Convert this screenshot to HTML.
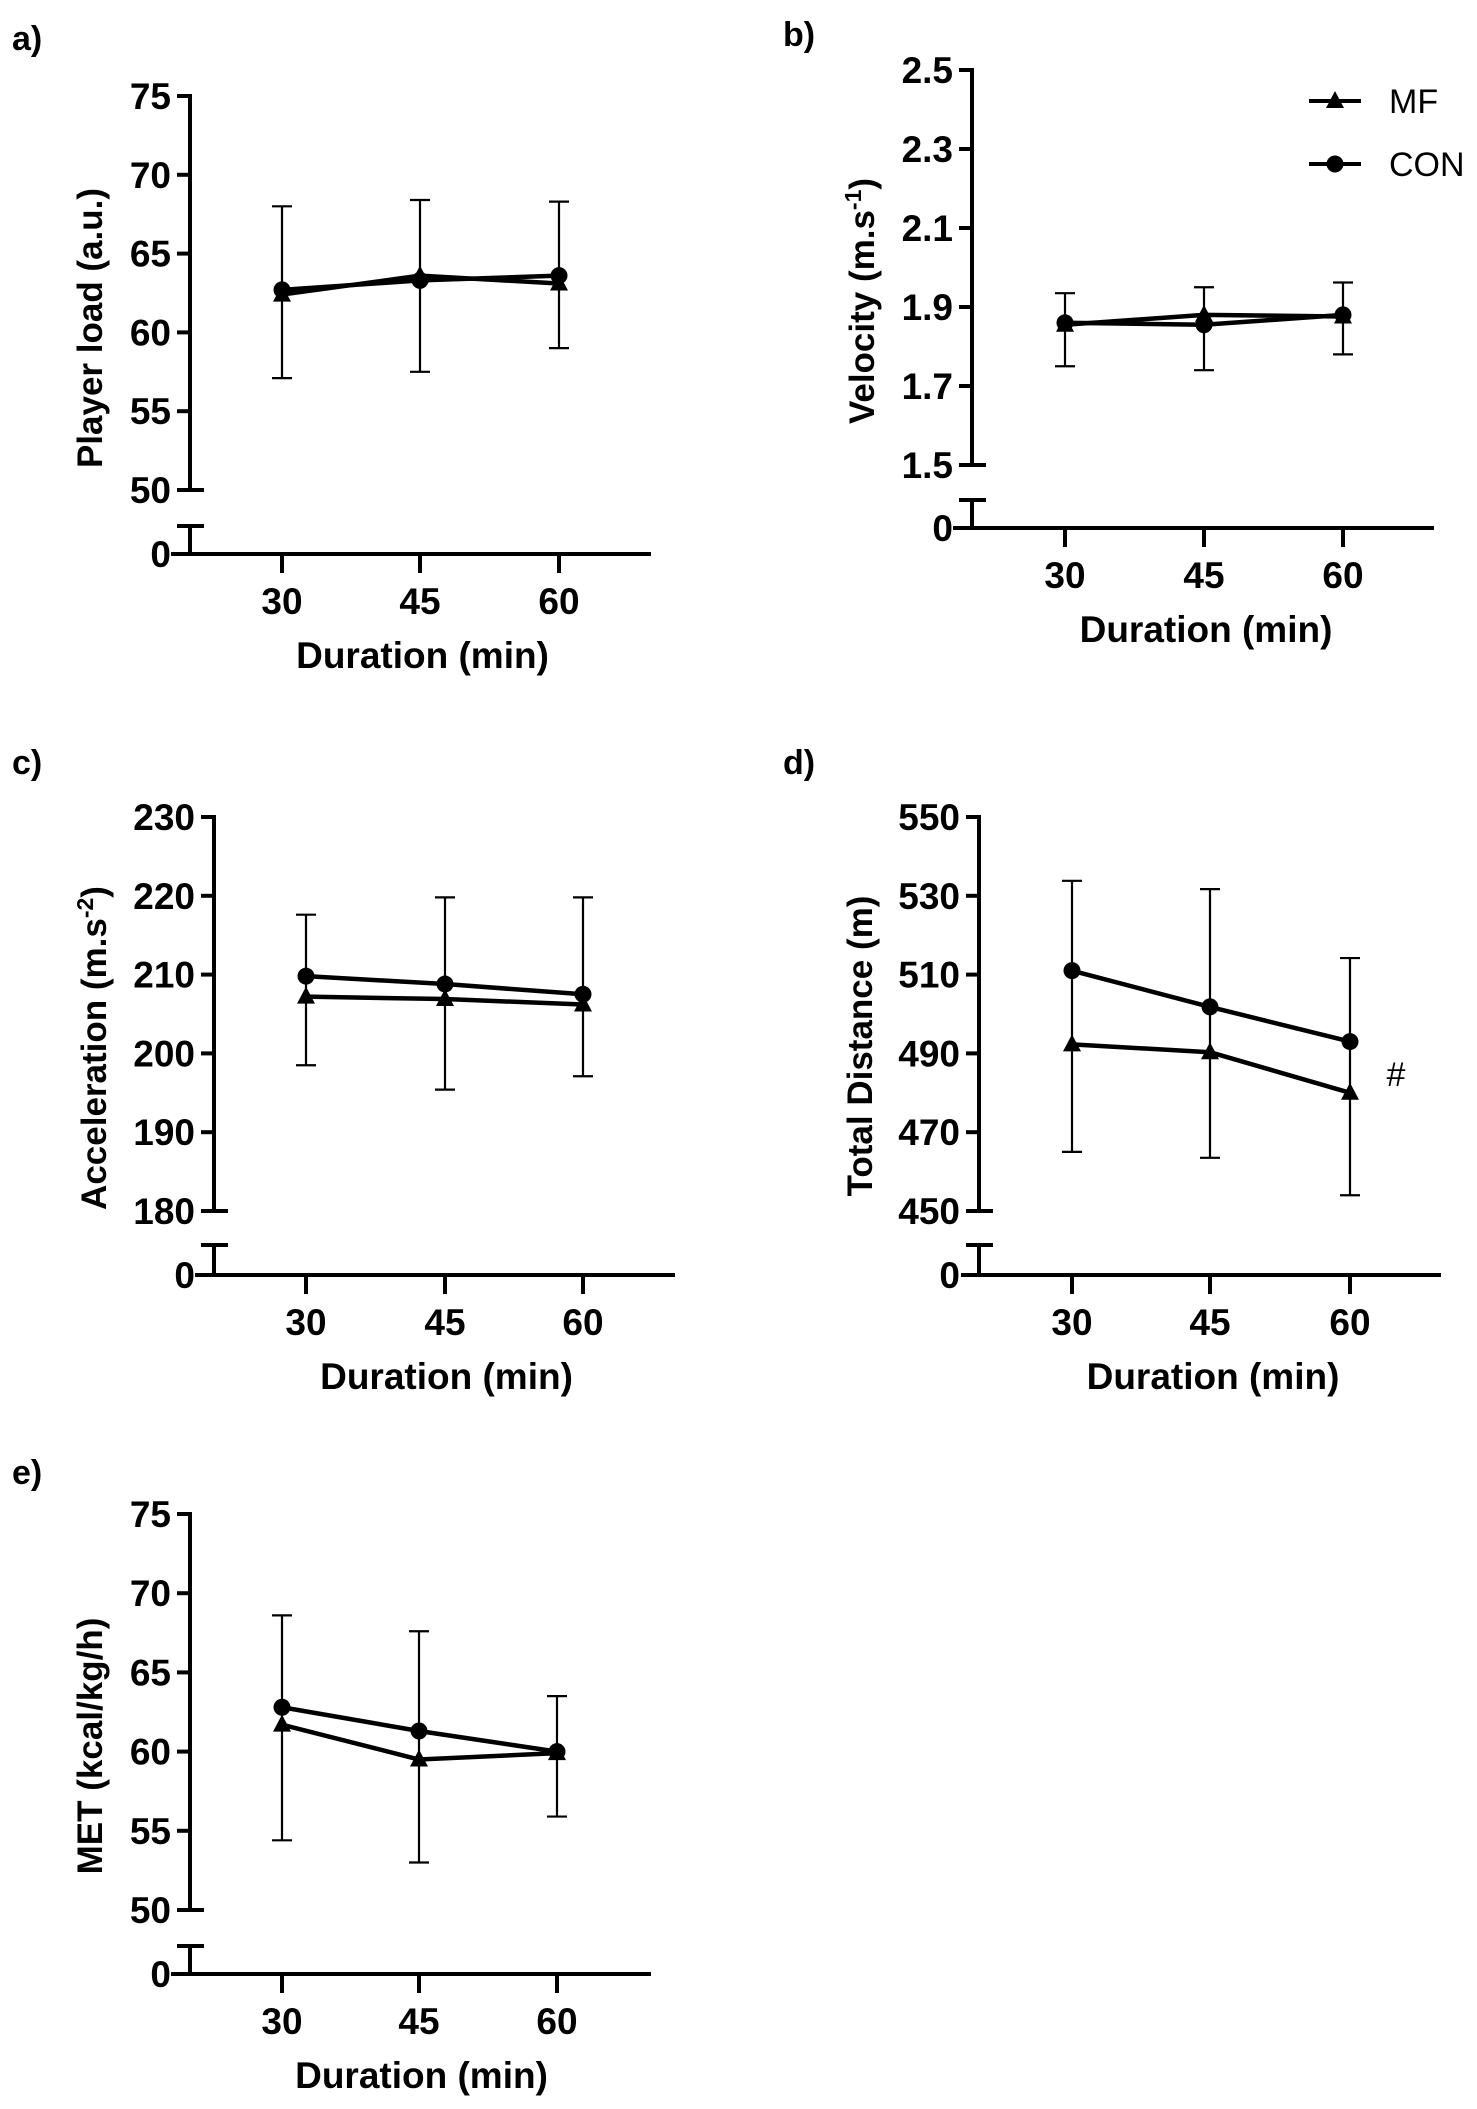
<!DOCTYPE html>
<html><head><meta charset="utf-8">
<style>
html,body{margin:0;padding:0;background:#fff;}
svg{display:block;font-family:"Liberation Sans",Arial,sans-serif;}
</style></head>
<body>
<svg id="fig" width="1477" height="2109" viewBox="0 0 1477 2109" xmlns="http://www.w3.org/2000/svg"></svg>
<script>
// shared categories
const durations = ["30","45","60"];
// panel a: Player load
const aTicks = [50,55,60,65,70,75];
const aMF  = [62.4,63.6,63.1];
const aCON = [62.7,63.3,63.6];
const aErrHigh = [68.0,68.4,68.3];
const aErrLow  = [57.1,57.5,59.0];
// panel b: Velocity
const bTicks = [1.5,1.7,1.9,2.1,2.3,2.5];
const bMF  = [1.855,1.88,1.876];
const bCON = [1.86,1.855,1.88];
const bErrHigh = [1.935,1.95,1.962];
const bErrLow  = [1.75,1.74,1.78];
// panel c: Acceleration
const cTicks = [180,190,200,210,220,230];
const cMF  = [207.2,206.9,206.2];
const cCON = [209.8,208.8,207.5];
const cErrHigh = [217.6,219.8,219.8];
const cErrLow  = [198.5,195.4,197.1];
// panel d: Total distance
const dTicks = [450,470,490,510,530,550];
const dMF  = [492.3,490.3,480.0];
const dCON = [511.0,501.8,493.0];
const dErrHigh = [533.8,531.7,514.2];
const dErrLow  = [465.0,463.5,454.0];
// panel e: MET
const eTicks = [50,55,60,65,70,75];
const eMF  = [61.7,59.5,59.9];
const eCON = [62.8,61.3,60.0];
const eErrHigh = [68.6,67.6,63.5];
const eErrLow  = [54.4,53.0,55.9];

const NS="http://www.w3.org/2000/svg";
const svg=document.getElementById('fig');
function mk(tag,attrs,parent){const e=document.createElementNS(NS,tag);for(const k in attrs)e.setAttribute(k,attrs[k]);(parent||svg).appendChild(e);return e;}

function panel(p){
  const g=mk('g',{});
  
  
  const tmin=p.ticks[0], tmax=p.ticks[p.ticks.length-1];
  const y=v=>p.yBot+(v-tmin)/(tmax-tmin)*(p.yTop-p.yBot);
  const xs=[p.x0,p.x1,p.x2];
  const x=i=>xs[i];
  const ax=p.axisX;
  const lt=mk('text',{x:p.letterX,y:p.letterY,'font-size':34,'font-weight':'bold',fill:'#000'},g);
  lt.textContent=p.key+')';
  
  
  const ya=mk('line',{x1:ax,y1:p.yTop-2,x2:ax,y2:p.yBot+2,stroke:'#000','stroke-width':4},g);
  
  
  const yb=mk('line',{x1:ax,y1:p.breakY,x2:ax,y2:p.zeroY,stroke:'#000','stroke-width':4},g);
  
  
  mk('line',{x1:ax-13,y1:p.breakY,x2:ax+14,y2:p.breakY,stroke:'#000','stroke-width':4},g);
  p.ticks.forEach((t,i)=>{
    const ty=y(t);
    const right = (i===0)?ax+14:ax;
    mk('line',{x1:ax-13,y1:ty,x2:right,y2:ty,stroke:'#000','stroke-width':4},g);
    const tx=mk('text',{x:ax-19,y:ty+13,'font-size':37,'font-weight':'bold','text-anchor':'end',fill:'#000'},g);
    tx.textContent=String(t);
    
    
  });
  const z=mk('text',{x:ax-19,y:p.zeroY+13,'font-size':37,'font-weight':'bold','text-anchor':'end',fill:'#000'},g);
  z.textContent='0';
  
  
  const xa=mk('line',{x1:p.xL,y1:p.zeroY,x2:p.xR,y2:p.zeroY,stroke:'#000','stroke-width':4},g);
  
  
  durations.forEach((d,i)=>{
    mk('line',{x1:x(i),y1:p.zeroY,x2:x(i),y2:p.zeroY+19,stroke:'#000','stroke-width':4},g);
    const t=mk('text',{x:x(i),y:p.zeroY+60,'font-size':37,'font-weight':'bold','text-anchor':'middle',fill:'#000'},g);
    t.textContent=d;
    
    
  });
  const xt=mk('text',{x:(x(0)+x(2))/2+2,y:p.zeroY+114,'font-size':37,'font-weight':'bold','text-anchor':'middle',fill:'#000'},g);
  xt.textContent='Duration (min)';
  
  
  const yt=mk('text',{x:0,y:0,'font-size':35,'font-weight':'bold','text-anchor':'middle',fill:'#000',transform:`translate(${p.ylabX+12},${p.ylabY}) rotate(-90)`},g);
  
  
  if(p.sup){
    const t1=mk('tspan',{},yt);t1.textContent=p.ylab;
    const t2=mk('tspan',{'baseline-shift':'super','font-size':23},yt);t2.textContent=p.sup;
    const t3=mk('tspan',{},yt);t3.textContent=')';
  } else yt.textContent=p.ylab;
  durations.forEach((d,i)=>{
    const hi=y(p.errHigh[i]), lo=y(p.errLow[i]);
    const eb=mk('g',{},g);
    
    
    mk('line',{x1:x(i),y1:hi,x2:x(i),y2:lo,stroke:'#000','stroke-width':2.2},eb);
    mk('line',{x1:x(i)-10,y1:hi,x2:x(i)+10,y2:hi,stroke:'#000','stroke-width':2.2},eb);
    mk('line',{x1:x(i)-10,y1:lo,x2:x(i)+10,y2:lo,stroke:'#000','stroke-width':2.2},eb);
  });
  [['mf',p.mf],['con',p.con]].forEach(([nm,vals])=>{
    const pts=vals.map((v,i)=>x(i)+','+y(v)).join(' ');
    const pl=mk('polyline',{points:pts,fill:'none',stroke:'#000','stroke-width':4.5,'stroke-linejoin':'round'},g);
    
    
  });
  p.mf.forEach((v,i)=>{
    const cx=x(i),cy=y(v);
    const tr=mk('polygon',{points:`${cx},${cy-10} ${cx-9},${cy+7} ${cx+9},${cy+7}`,fill:'#000'},g);
    
    
  });
  p.con.forEach((v,i)=>{
    const c=mk('circle',{cx:x(i),cy:y(v),r:8.5,fill:'#000'},g);
    
    
  });
  return {g,y,x};
}

panel({key:'a',ticks:aTicks,mf:aMF,con:aCON,errHigh:aErrHigh,errLow:aErrLow,
  axisX:190,yTop:96,yBot:490,breakY:526,zeroY:554,xL:171,xR:651,x0:282,x1:420,x2:559,
  letterX:12,letterY:50,ylab:'Player load (a.u.)',ylabX:90,ylabY:328});
panel({key:'b',ticks:bTicks,mf:bMF,con:bCON,errHigh:bErrHigh,errLow:bErrLow,
  axisX:972,yTop:70,yBot:465,breakY:500,zeroY:528,xL:953,xR:1434,x0:1065,x1:1204,x2:1343,
  letterX:783,letterY:46,ylab:'Velocity (m.s',sup:'-1',ylabX:862,ylabY:301});
panel({key:'c',ticks:cTicks,mf:cMF,con:cCON,errHigh:cErrHigh,errLow:cErrLow,
  axisX:214,yTop:817,yBot:1211,breakY:1245,zeroY:1275,xL:195,xR:675,x0:306,x1:445,x2:583,
  letterX:12,letterY:774,ylab:'Acceleration (m.s',sup:'-2',ylabX:94,ylabY:1048});
panel({key:'d',ticks:dTicks,mf:dMF,con:dCON,errHigh:dErrHigh,errLow:dErrLow,
  axisX:979,yTop:817,yBot:1211,breakY:1245,zeroY:1275,xL:961,xR:1441,x0:1072,x1:1210,x2:1350,
  letterX:783,letterY:774,ylab:'Total Distance (m)',ylabX:860,ylabY:1046});
panel({key:'e',ticks:eTicks,mf:eMF,con:eCON,errHigh:eErrHigh,errLow:eErrLow,
  axisX:190,yTop:1514,yBot:1910,breakY:1946,zeroY:1974,xL:171,xR:651,x0:282,x1:419,x2:557,
  letterX:12,letterY:1484,ylab:'MET (kcal/kg/h)',ylabX:90,ylabY:1746});

const hash=mk('text',{x:1396,y:1086,'font-size':34,'text-anchor':'middle',fill:'#000'});
hash.textContent='#';



const lg=mk('g',{});


const l1=mk('g',{},lg);


mk('line',{x1:1309,y1:101,x2:1361,y2:101,stroke:'#000','stroke-width':4},l1);
mk('polygon',{points:'1335,91 1326,108 1344,108',fill:'#000'},l1);
const t1=mk('text',{x:1389,y:113,'font-size':34,fill:'#000'},l1);t1.textContent='MF';
const l2=mk('g',{},lg);


mk('line',{x1:1309,y1:164,x2:1361,y2:164,stroke:'#000','stroke-width':4},l2);
mk('circle',{cx:1335,cy:164,r:8.5,fill:'#000'},l2);
const t2=mk('text',{x:1389,y:176,'font-size':34,fill:'#000'},l2);t2.textContent='CON';
</script>
</body></html>
